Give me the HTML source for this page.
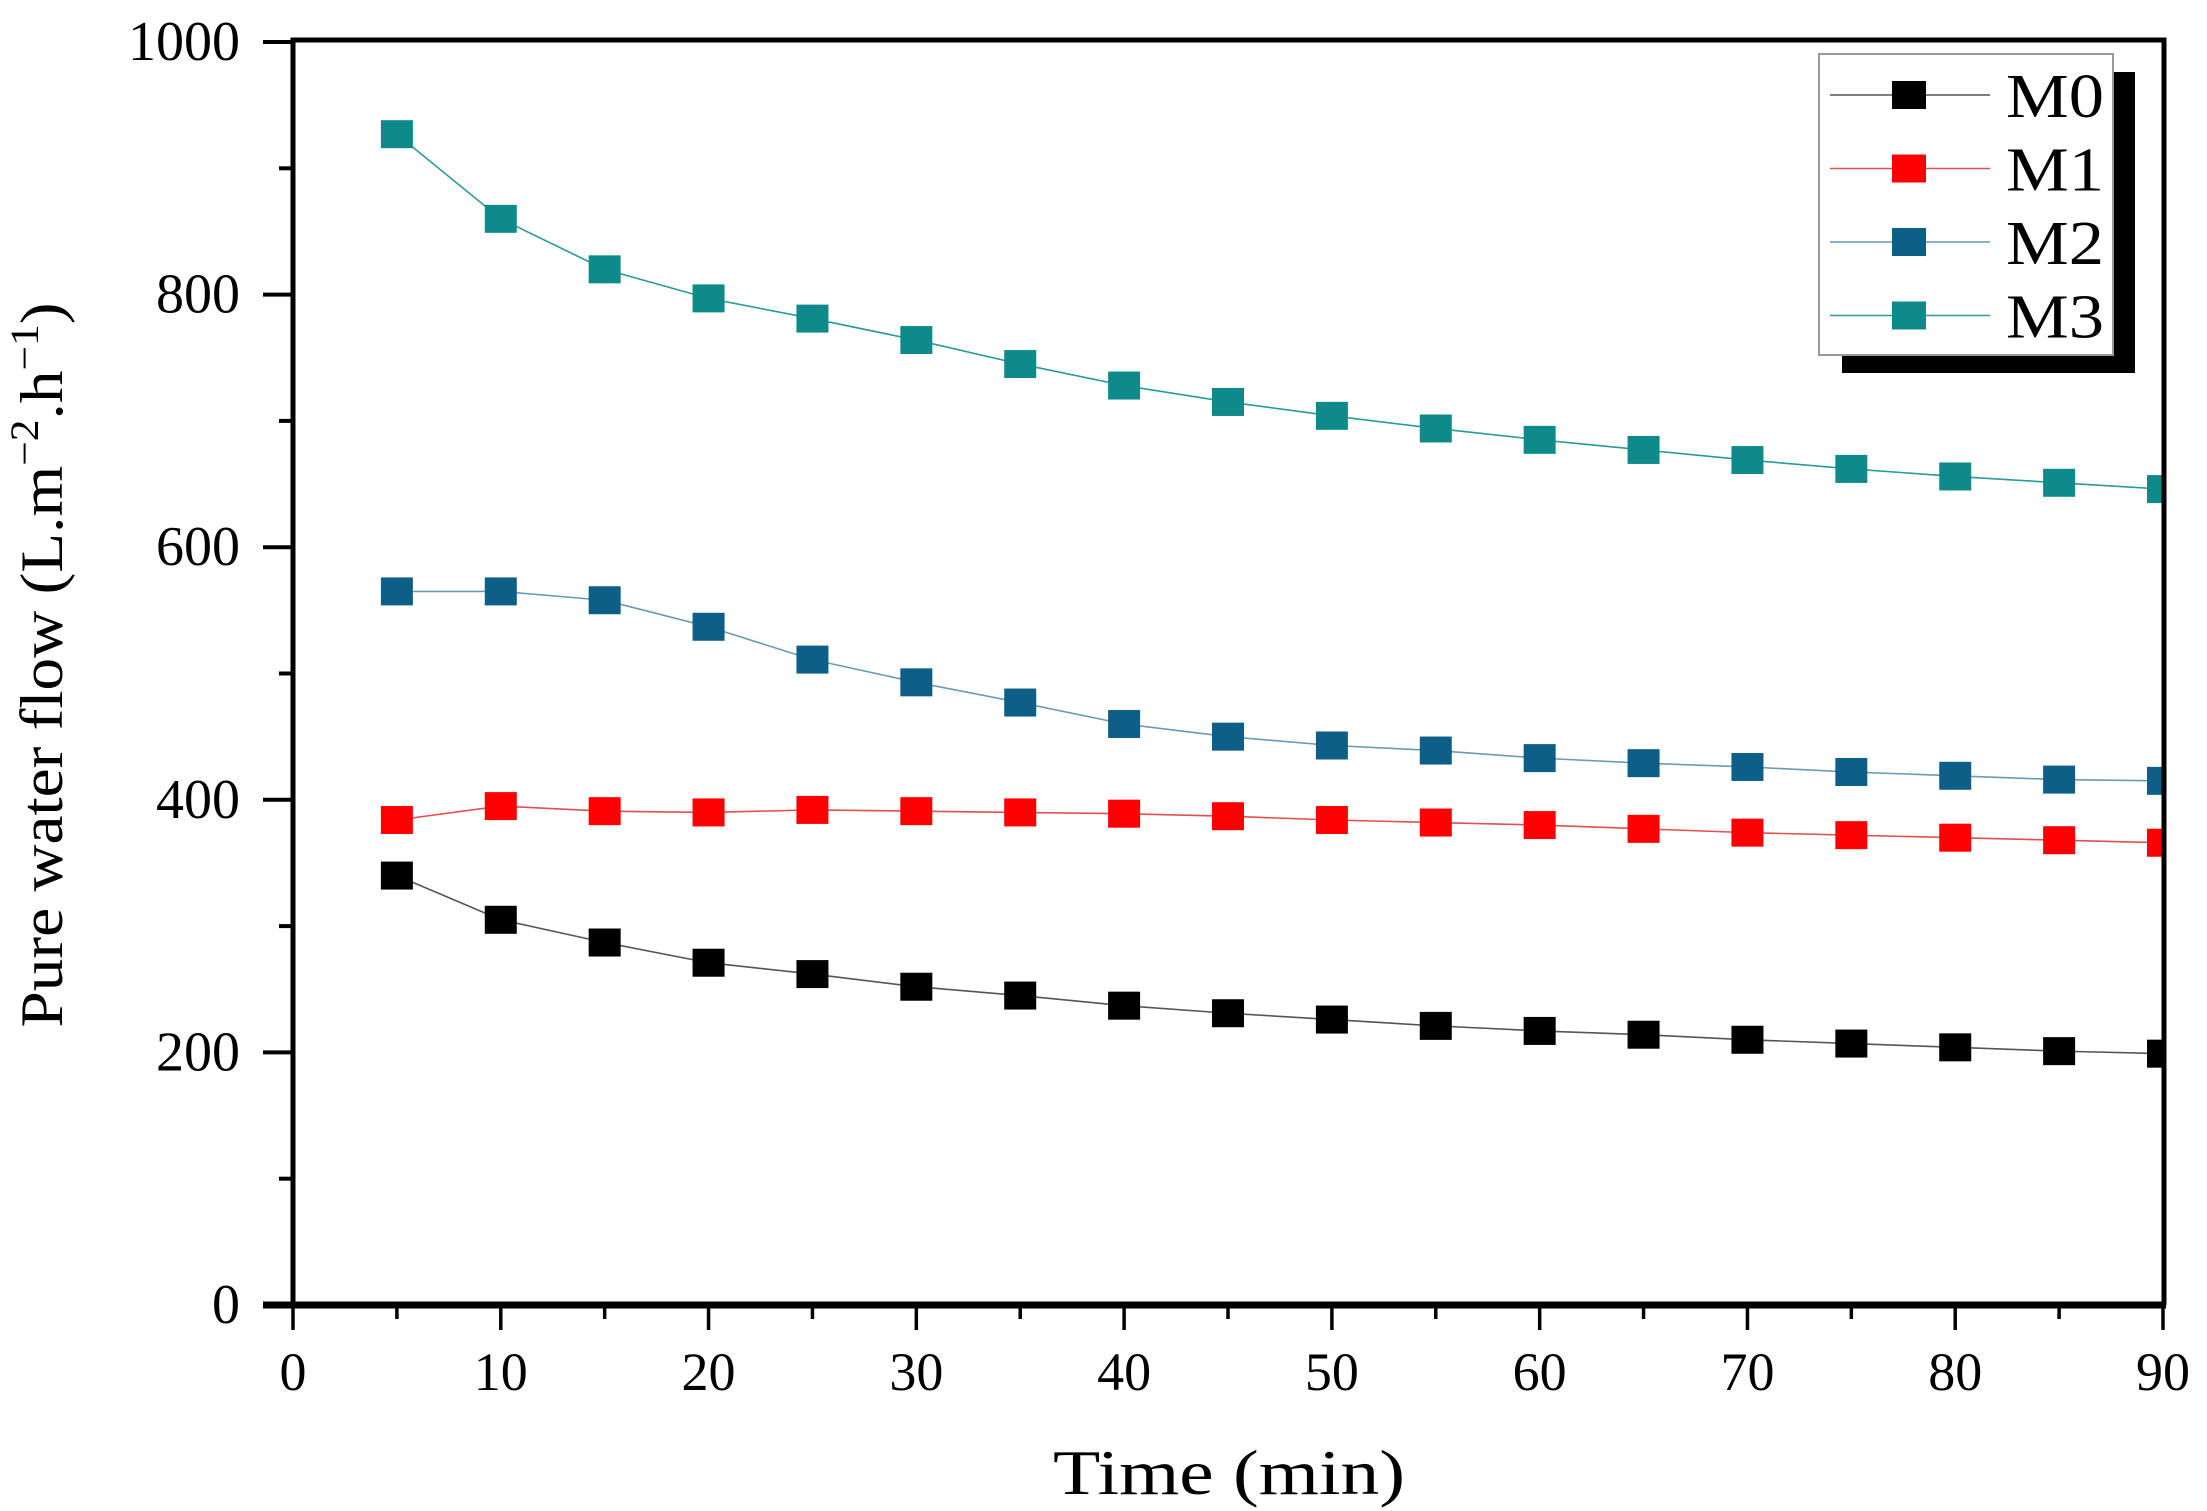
<!DOCTYPE html>
<html><head><meta charset="utf-8"><style>
html,body{margin:0;padding:0;background:#fff;}
svg{display:block;font-family:"Liberation Serif",serif;}
</style></head><body>
<svg id="chart" width="2207" height="1511" viewBox="0 0 2207 1511" xmlns="http://www.w3.org/2000/svg">
<defs><clipPath id="plotclip"><rect x="293" y="40" width="1871" height="1266"/></clipPath></defs>
<g id="grid"></g>
<g id="series" clip-path="url(#plotclip)"></g>
<g id="axes"></g>
<text x="1229" y="1494" font-size="64" text-anchor="middle" textLength="352" lengthAdjust="spacingAndGlyphs">Time (min)</text>
<text transform="translate(62,665) rotate(-90)" font-size="60" text-anchor="middle" textLength="725" lengthAdjust="spacingAndGlyphs">Pure water flow (L.m<tspan font-size="40" dy="-24">−2</tspan><tspan dy="24">.h</tspan><tspan font-size="40" dy="-24">−1</tspan><tspan dy="24">)</tspan></text>
<g id="legend"></g>
</svg>
<script>
const times=[5,10,15,20,25,30,35,40,45,50,55,60,65,70,75,80,85,90];
const seriesNames=["M0","M1","M2","M3"];
const m0=[340,305,287,271,262,252,245,237,231,226,221,217,214,210,207,204,201,199];
const m1=[384,395,391,390,392,391,390,389,387,384,382,380,377,374,372,370,368,366];
const m2=[565,565,558,537,511,493,477,460,450,443,439,433,429,426,422,419,416,415];
const m3=[927,860,820,797,781,764,745,728,715,704,694,685,677,669,662,656,651,646];
const xTicks=[0,10,20,30,40,50,60,70,80,90];
const yTicks=[0,200,400,600,800,1000];

const NS="http://www.w3.org/2000/svg";
const X0=293,X1=2163,Y0=1305,Y1=42;
function sx(v){return X0+(v-0)/(90-0)*(X1-X0);}
function sy(v){return Y0-(v-0)/(1000-0)*(Y0-Y1);}
function mk(tag,attrs,parent){const e=document.createElementNS(NS,tag);for(const k in attrs)e.setAttribute(k,attrs[k]);parent.appendChild(e);return e;}

const colors=["#000000","#ff0000","#0e5f87","#0f8a8a"];
const lineColors=["#555","#e05050","#6a9ab4","#2a9a9a"];
const data=[m0,m1,m2,m3];
const sg=document.getElementById('series');
data.forEach((vals,si)=>{
  const pts=vals.map((v,i)=>sx(times[i])+','+sy(v)).join(' ');
  const pl=mk('polyline',{points:pts,fill:'none',stroke:lineColors[si],'stroke-width':1.6},sg);
  
  
  vals.forEach((v,i)=>{
    const r=mk('rect',{x:sx(times[i])-16,y:sy(v)-14,width:32,height:28,fill:colors[si]},sg);
    
    
  });
});

const ax=document.getElementById('axes');
const fr=mk('path',{d:`M${X0} ${Y0} L${X0} 40 L${X1+1} 40 L${X1+1} ${Y0}`,fill:'none',stroke:'#000','stroke-width':5},ax);


const xa=mk('line',{x1:263,y1:Y0,x2:X1+3,y2:Y0,stroke:'#000','stroke-width':7},ax);


for(let v=0;v<=90;v+=5){
  const major=v%10===0;
  const t=mk('line',{x1:sx(v),y1:Y0,x2:sx(v),y2:Y0+(major?25:14),stroke:'#000','stroke-width':3.5},ax);
  
  
}
xTicks.forEach(v=>{
  const t=mk('text',{x:sx(v),y:1390,'font-size':54,'text-anchor':'middle'},ax);
  t.textContent=v;
  
  
});
for(let v=0;v<=1000;v+=100){
  const major=v%200===0;
  const t=mk('line',{x1:X0,y1:sy(v),x2:X0-(major?30:14),y2:sy(v),stroke:'#000','stroke-width':4},ax);
  
  
}
yTicks.forEach(v=>{
  const t=mk('text',{x:240,y:sy(v)+18,'font-size':56,'text-anchor':'end'},ax);
  t.textContent=v;
  
  
});

const lg=document.getElementById('legend');
mk('rect',{x:1842,y:72,width:293,height:301,fill:'#000'},lg);
mk('rect',{x:1819,y:54,width:294,height:301,fill:'#fff',stroke:'#999','stroke-width':2},lg);
seriesNames.forEach((n,i)=>{
  const y=95+i*73.5;
  const g=mk('g',{},lg);
  
  
  mk('line',{x1:1830,y1:y,x2:1990,y2:y,stroke:lineColors[i],'stroke-width':1.6},g);
  mk('rect',{x:1892,y:y-14,width:34,height:28,fill:colors[i]},g);
  const t=mk('text',{x:2006,y:y+22,'font-size':62,textLength:98,lengthAdjust:'spacingAndGlyphs'},g);
  t.textContent=n;
});
</script>
</body></html>
